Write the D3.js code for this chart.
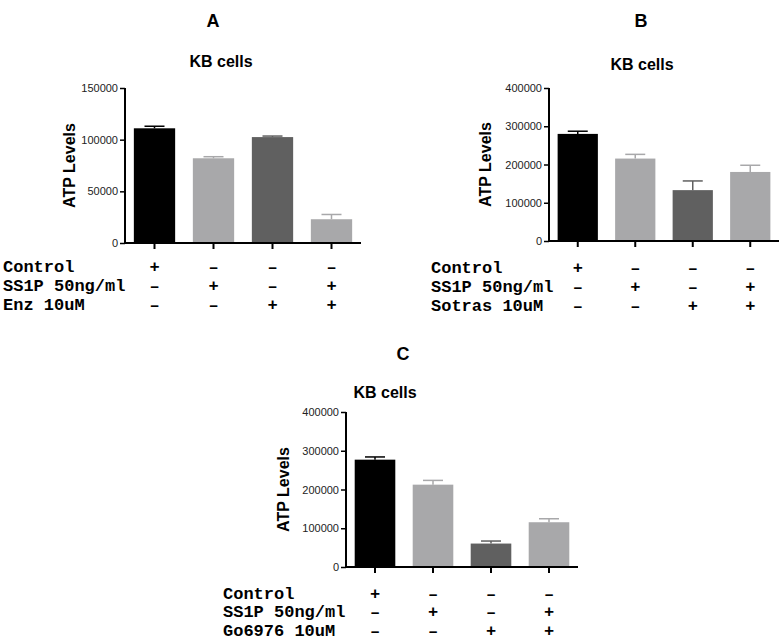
<!DOCTYPE html>
<html>
<head>
<meta charset="utf-8">
<script src="https://cdn.jsdelivr.net/npm/d3@7"></script>
<style>
  body { margin: 0; background: #fff; }
  svg { display: block; }
</style>
</head>
<body>
<svg id="chart" width="783" height="642"></svg>
<script>
// data
const groups = ["g1", "g2", "g3", "g4"];
const barColors = ["#000000", "#a8a8aa", "#606060", "#a8a8aa"];

const rowsA = ["Control", "SS1P 50ng/ml", "Enz 10uM"];
const rowsB = ["Control", "SS1P 50ng/ml", "Sotras 10uM"];
const rowsC = ["Control", "SS1P 50ng/ml", "Go6976 10uM"];
const signs = [
  ["+", "-", "-", "-"],
  ["-", "+", "-", "+"],
  ["-", "-", "+", "+"],
];

const meanA = [111000, 82000, 102500, 23000];
const errA = [2000, 1500, 1000, 4600];
const ticksA = [0, 50000, 100000, 150000];

const meanB = [280000, 215500, 133000, 180500];
const errB = [7000, 11000, 24000, 17500];
const ticksB = [0, 100000, 200000, 300000, 400000];

const meanC = [277000, 212500, 60500, 115500];
const errC = [7000, 11000, 6500, 9000];
const ticksC = [0, 100000, 200000, 300000, 400000];

const svg = d3.select("#chart");

const drawPanel = (o) => {
  const g = svg.append("g");

  const x = d3.scaleBand().domain(groups).range([o.x0, o.x1]).paddingInner(0.3).paddingOuter(0.15);
  const y = d3.scaleLinear().domain([0, d3.max(o.ticks)]).range([o.y0, o.y1]);

  // panel letter and title
  g.append("text")
    .attr("x", o.letterX).attr("y", o.letterY)
    .attr("text-anchor", "middle")
    .style("font-family", "Liberation Sans, Arial, sans-serif")
    .style("font-weight", "bold").style("font-size", "18px")
    .text(o.letter);
  g.append("text")
    .attr("x", o.titleX).attr("y", o.titleY)
    .attr("text-anchor", "middle")
    .style("font-family", "Liberation Sans, Arial, sans-serif")
    .style("font-weight", "bold").style("font-size", "16px")
    .text("KB cells");

  // bars
  g.selectAll("rect.bar")
    .data(o.mean)
    .join("rect")
    .attr("class", "bar")
    .attr("x", (d, i) => x(groups[i]))
    .attr("width", x.bandwidth())
    .attr("y", (d) => y(d))
    .attr("height", (d) => y(0) - y(d))
    .attr("fill", (d, i) => barColors[i]);

  // error bars (upper only)
  o.mean.forEach((m, i) => {
    const cx = x(groups[i]) + x.bandwidth() / 2;
    const col = barColors[i];
    g.append("line")
      .attr("x1", cx).attr("x2", cx)
      .attr("y1", y(m)).attr("y2", y(m + o.err[i]))
      .attr("stroke", col).attr("stroke-width", 1.5);
    g.append("line")
      .attr("x1", cx - 10).attr("x2", cx + 10)
      .attr("y1", y(m + o.err[i])).attr("y2", y(m + o.err[i]))
      .attr("stroke", col).attr("stroke-width", 1.5);
  });

  // y axis
  const yAxis = g.append("g")
    .attr("transform", `translate(${o.x0},0)`)
    .call(d3.axisLeft(y).tickValues(o.ticks).tickSize(5).tickPadding(2).tickFormat(d3.format("d")));
  yAxis.select(".domain").attr("stroke", "#000").attr("stroke-width", 2)
    .attr("d", `M0,${o.y0}V${o.y1}`);
  yAxis.selectAll(".tick line").attr("stroke", "#000").attr("stroke-width", 1.5);
  yAxis.selectAll(".tick text")
    .style("font-family", "Liberation Sans, Arial, sans-serif")
    .style("font-size", "11px").attr("fill", "#222");

  // x axis
  const xAxis = g.append("g")
    .attr("transform", `translate(0,${o.y0})`)
    .call(d3.axisBottom(x).tickSize(6).tickFormat(""));
  xAxis.select(".domain").attr("stroke", "#000").attr("stroke-width", 2)
    .attr("d", `M${o.x0 - 1},0H${o.x1}`);
  xAxis.selectAll(".tick line").attr("stroke", "#000").attr("stroke-width", 2);

  // axis label
  g.append("text")
    .attr("transform", `translate(${o.labelX},${(o.y0 + o.y1) / 2}) rotate(-90)`)
    .attr("text-anchor", "middle")
    .attr("dy", "0.35em")
    .style("font-family", "Liberation Sans, Arial, sans-serif")
    .style("font-weight", "bold").style("font-size", "16px")
    .text("ATP Levels");

  // treatment table
  o.rows.forEach((r, ri) => {
    const ty = o.rowY + ri * o.rowGap;
    g.append("text")
      .attr("x", o.rowX).attr("y", ty)
      .attr("dy", "0.35em")
      .style("font-family", "Liberation Mono, Courier New, monospace")
      .style("font-weight", "bold").style("font-size", "17px")
      .text(r);
    signs[ri].forEach((s, i) => {
      g.append("text")
        .attr("x", x(groups[i]) + x.bandwidth() / 2)
        .attr("y", ty)
        .attr("dy", "0.35em")
        .attr("text-anchor", "middle")
        .style("font-family", "Liberation Mono, Courier New, monospace")
        .style("font-weight", "bold").style("font-size", "17px")
        .text(s === "-" ? "\u2013" : s);
    });
  });
};

drawPanel({
  letter: "A", letterX: 213, letterY: 27, titleX: 221, titleY: 67,
  x0: 125, x1: 361, y0: 243, y1: 88, ticks: ticksA,
  mean: meanA, err: errA, labelX: 69,
  rows: rowsA, rowX: 3, rowY: 266, rowGap: 19,
});

drawPanel({
  letter: "B", letterX: 641, letterY: 27, titleX: 642, titleY: 70,
  x0: 549, x1: 779, y0: 241, y1: 88, ticks: ticksB,
  mean: meanB, err: errB, labelX: 485,
  rows: rowsB, rowX: 431, rowY: 267, rowGap: 19,
});

drawPanel({
  letter: "C", letterX: 403, letterY: 360, titleX: 385, titleY: 398,
  x0: 346, x1: 578, y0: 567, y1: 412, ticks: ticksC,
  mean: meanC, err: errC, labelX: 283,
  rows: rowsC, rowX: 223, rowY: 593, rowGap: 18.5,
});
</script>
</body>
</html>
